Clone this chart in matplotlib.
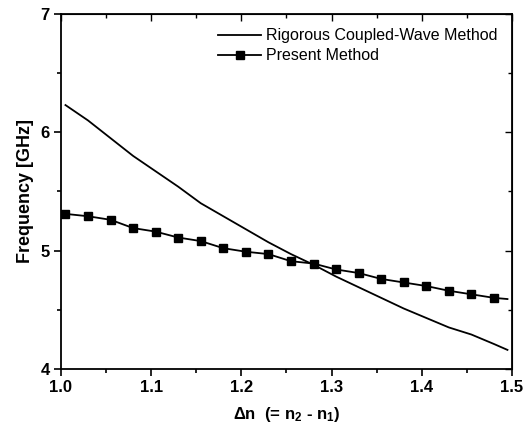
import matplotlib
matplotlib.use("Agg")
import matplotlib.pyplot as plt
from matplotlib.ticker import MultipleLocator

plt.rcParams['font.family'] = ['Liberation Sans', 'DejaVu Sans']
plt.rcParams['mathtext.fontset'] = 'custom'
plt.rcParams['mathtext.rm'] = 'Liberation Sans:bold'
plt.rcParams['mathtext.it'] = 'Liberation Sans:bold'
plt.rcParams['mathtext.bf'] = 'Liberation Sans:bold'
plt.rcParams['mathtext.default'] = 'bf'

# Rigorous Coupled-Wave Method
rcwm_x = [1.005, 1.03, 1.055, 1.08, 1.105, 1.13, 1.155, 1.18, 1.205, 1.23, 1.255,
          1.28, 1.305, 1.33, 1.355, 1.38, 1.405, 1.43, 1.455, 1.48, 1.495]
rcwm_y = [6.23, 6.10, 5.95, 5.80, 5.67, 5.54, 5.40, 5.29, 5.18, 5.07, 4.97,
          4.88, 4.78, 4.69, 4.60, 4.51, 4.43, 4.35, 4.29, 4.21, 4.16]

# Present Method (markers) and line end
pm_x = [1.005, 1.03, 1.055, 1.08, 1.105, 1.13, 1.155, 1.18, 1.205, 1.23,
        1.255, 1.28, 1.305, 1.33, 1.355, 1.38, 1.405, 1.43, 1.455, 1.48]
pm_y = [5.31, 5.29, 5.26, 5.19, 5.16, 5.11, 5.08, 5.02, 4.99, 4.97,
        4.91, 4.89, 4.84, 4.81, 4.76, 4.73, 4.70, 4.66, 4.63, 4.60]
pm_end_x = 1.495
pm_end_y = 4.59

x_ticks = [1.0, 1.1, 1.2, 1.3, 1.4, 1.5]
y_ticks = [4, 5, 6, 7]

fig = plt.figure(figsize=(5.30, 4.37), dpi=100)
ax = fig.add_axes([0.115, 0.156, 0.851, 0.812])

ax.plot(rcwm_x, rcwm_y, color='black', lw=1.3, label='Rigorous Coupled-Wave Method')
ax.plot(pm_x + [pm_end_x], pm_y + [pm_end_y], color='black', lw=1.3,
        marker='s', markersize=5.5, markevery=list(range(len(pm_x))),
        label='Present Method')

ax.set_xlim(1.0, 1.5)
ax.set_ylim(4, 7)
ax.set_xticks(x_ticks)
ax.set_xticklabels([f'{v:.1f}' for v in x_ticks])
ax.set_yticks(y_ticks)
ax.set_yticklabels([str(v) for v in y_ticks])
ax.xaxis.set_minor_locator(MultipleLocator(0.05))
ax.yaxis.set_minor_locator(MultipleLocator(0.5))

for s in ax.spines.values():
    s.set_linewidth(1.3)

ax.tick_params(which='both', direction='out', width=1.2, top=False, right=False)
ax.tick_params(which='major', length=5, labelsize=12, pad=3)
ax.tick_params(which='minor', length=3)
for lab in ax.get_xticklabels() + ax.get_yticklabels():
    lab.set_fontweight('bold')

secx = ax.secondary_xaxis('top')
secx.set_xticks(x_ticks)
secx.xaxis.set_minor_locator(MultipleLocator(0.05))
secx.tick_params(which='both', direction='in', labeltop=False, width=1.0)
secx.tick_params(which='major', length=5)
secx.tick_params(which='minor', length=3)
secy = ax.secondary_yaxis('right')
secy.set_yticks(y_ticks)
secy.yaxis.set_minor_locator(MultipleLocator(0.5))
secy.tick_params(which='both', direction='in', labelright=False, width=1.0)
secy.tick_params(which='major', length=5)
secy.tick_params(which='minor', length=3)

ax.set_xlabel(r'$\Delta$n  (= n$_2$ - n$_1$)', fontsize=12, fontweight='bold', labelpad=7)
ax.set_ylabel('Frequency [GHz]', fontsize=13, fontweight='bold', labelpad=5)

leg = ax.legend(loc='upper right', frameon=False, fontsize=11.5, handlelength=2.7,
                borderaxespad=0.5, handletextpad=0.3, labelspacing=0.3)

fig.savefig('out.png', dpi=100)
